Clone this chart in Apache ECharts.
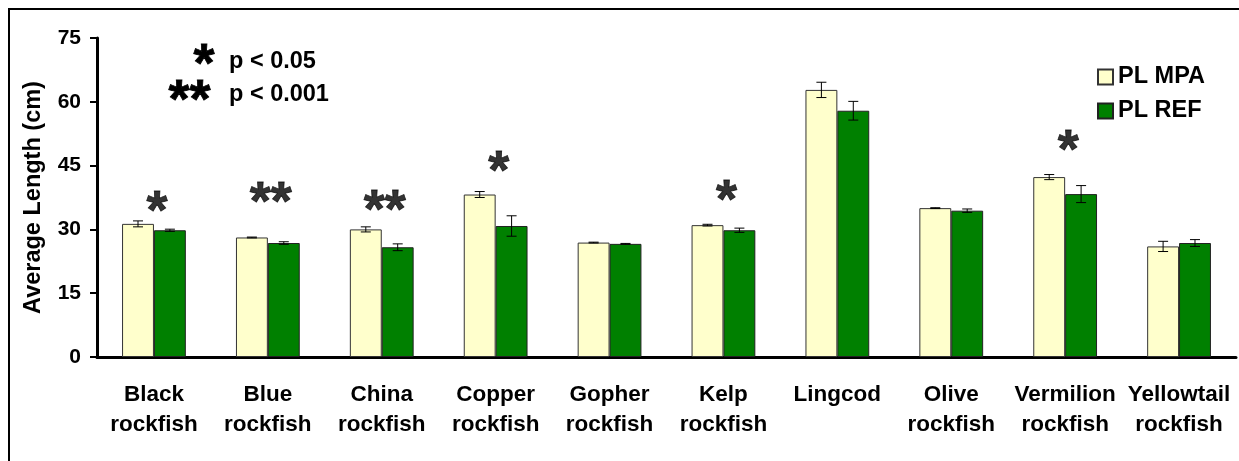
<!DOCTYPE html>
<html>
<head>
<meta charset="utf-8">
<script src="https://cdn.jsdelivr.net/npm/echarts@6/dist/echarts.min.js"></script>
<style>
  html, body { margin: 0; padding: 0; background: #fff; }
  #chart { width: 1239px; height: 461px; }
</style>
</head>
<body>
<div id="chart"></div>
<script>
// data
const categories = [
  'Black\nrockfish', 'Blue\nrockfish', 'China\nrockfish', 'Copper\nrockfish', 'Gopher\nrockfish',
  'Kelp\nrockfish', 'Lingcod', 'Olive\nrockfish', 'Vermilion\nrockfish', 'Yellowtail\nrockfish'
];
const mpaMeans = [31.3, 28.1, 30.0, 38.2, 26.9, 31.0, 62.8, 35.0, 42.3, 26.0];
const mpaErrors = [0.7, 0.1, 0.6, 0.7, 0.1, 0.2, 1.8, 0.1, 0.6, 1.2];
const refMeans = [29.8, 26.8, 25.8, 30.8, 26.6, 29.8, 57.9, 34.4, 38.3, 26.8];
const refErrors = [0.25, 0.3, 0.8, 2.4, 0.1, 0.5, 2.2, 0.4, 2.0, 0.8];
const starMarks = ['*', '**', '**', '*', '', '*', '', '', '*', ''];
const starHeights = [36.7, 38.8, 36.9, 46.1, null, 39.3, null, null, 51.0, null];
const yMax = 75;
const yStep = 15;

const font = 'Arial, "Liberation Sans", sans-serif';
const chart = echarts.init(document.getElementById('chart'));

// error bar drawn over the bar; side -1 = left bar, +1 = right bar
function errorBarItem(side) {
  return function (params, api) {
    const idx = api.value(0);
    const mean = api.value(1);
    const err = api.value(2);
    const hi = api.coord([idx, mean + err]);
    const lo = api.coord([idx, mean - err]);
    const band = api.size([1, 0])[0];
    const x = hi[0] + side * band * 0.14;
    const cap = 5;
    const st = { stroke: '#000', lineWidth: 1 };
    return {
      type: 'group',
      children: [
        { type: 'line', shape: { x1: x, y1: hi[1], x2: x, y2: lo[1] }, style: st },
        { type: 'line', shape: { x1: x - cap, y1: hi[1], x2: x + cap, y2: hi[1] }, style: st },
        { type: 'line', shape: { x1: x - cap, y1: lo[1], x2: x + cap, y2: lo[1] }, style: st }
      ]
    };
  };
}

const starStyle = {
  fontFamily: font, fontWeight: 'bold', fontSize: 54,
  fill: '#000', stroke: '#000', lineWidth: 0.8
};

const option = {
  animation: false,
  grid: { left: 97, right: 3, top: 38, bottom: 104, containLabel: false },
  legend: {
    orient: 'vertical',
    left: 1092,
    top: 60,
    itemWidth: 15,
    itemHeight: 15,
    itemGap: 10,
    icon: 'rect',
    data: ['PL MPA', 'PL REF'],
    textStyle: { fontFamily: font, fontWeight: 'bold', fontSize: 23.5, color: '#000' }
  },
  xAxis: {
    type: 'category',
    data: categories,
    axisLine: { lineStyle: { color: '#000', width: 3 } },
    axisTick: { length: 6, lineStyle: { color: '#000', width: 3 } },
    axisLabel: {
      interval: 0, margin: 23, lineHeight: 30,
      fontFamily: font, fontWeight: 'bold', fontSize: 22.5, color: '#000'
    }
  },
  yAxis: {
    type: 'value',
    min: 0,
    max: yMax,
    interval: yStep,
    name: 'Average Length (cm)',
    nameLocation: 'middle',
    nameGap: 51,
    nameTextStyle: { fontFamily: font, fontWeight: 'bold', fontSize: 23.5, color: '#000' },
    axisLine: { show: true, lineStyle: { color: '#000', width: 3 } },
    axisTick: { show: true, length: 7, lineStyle: { color: '#000', width: 2 } },
    splitLine: { show: false },
    axisLabel: { margin: 16, fontFamily: font, fontWeight: 'bold', fontSize: 21, color: '#000' }
  },
  series: [
    {
      name: 'PL MPA',
      type: 'bar',
      data: mpaMeans,
      barWidth: '28%',
      barGap: '0%',
      itemStyle: { color: '#ffffcc', borderColor: '#333', borderWidth: 1 }
    },
    {
      name: 'PL REF',
      type: 'bar',
      data: refMeans,
      barWidth: '28%',
      barGap: '0%',
      itemStyle: { color: '#008000', borderColor: '#222', borderWidth: 1 }
    },
    {
      type: 'custom',
      renderItem: errorBarItem(-1),
      z: 5,
      data: mpaMeans.map((m, i) => [i, m, mpaErrors[i]])
    },
    {
      type: 'custom',
      renderItem: errorBarItem(1),
      z: 5,
      data: refMeans.map((m, i) => [i, m, refErrors[i]])
    },
    {
      type: 'scatter',
      symbolSize: 0,
      z: 6,
      itemStyle: { color: '#000' },
      data: starHeights.map((h, i) => (h == null ? null : [i, h, starMarks[i]])),
      label: {
        show: true,
        position: 'inside',
        formatter: (p) => p.value[2],
        fontFamily: font,
        fontWeight: 'bold',
        fontSize: 54,
        color: '#000',
        textBorderColor: '#000',
        textBorderWidth: 0.8,
        offset: [3, 12]
      }
    }
  ],
  graphic: [
    {
      type: 'rect',
      shape: { x: 9, y: 9, width: 1240, height: 470 },
      style: { fill: null, stroke: '#000', lineWidth: 2 },
      silent: true
    },
    {
      type: 'text', right: 1239 - 215, top: 39,
      style: Object.assign({ text: '*' }, starStyle)
    },
    {
      type: 'text', right: 1239 - 211, top: 75,
      style: Object.assign({ text: '**' }, starStyle)
    },
    {
      type: 'text', left: 229, top: 50,
      style: { text: 'p < 0.05', font: 'bold 23.5px ' + font, fill: '#000' }
    },
    {
      type: 'text', left: 229, top: 83,
      style: { text: 'p < 0.001', font: 'bold 23.5px ' + font, fill: '#000' }
    }
  ]
};

chart.setOption(option);
</script>
</body>
</html>
